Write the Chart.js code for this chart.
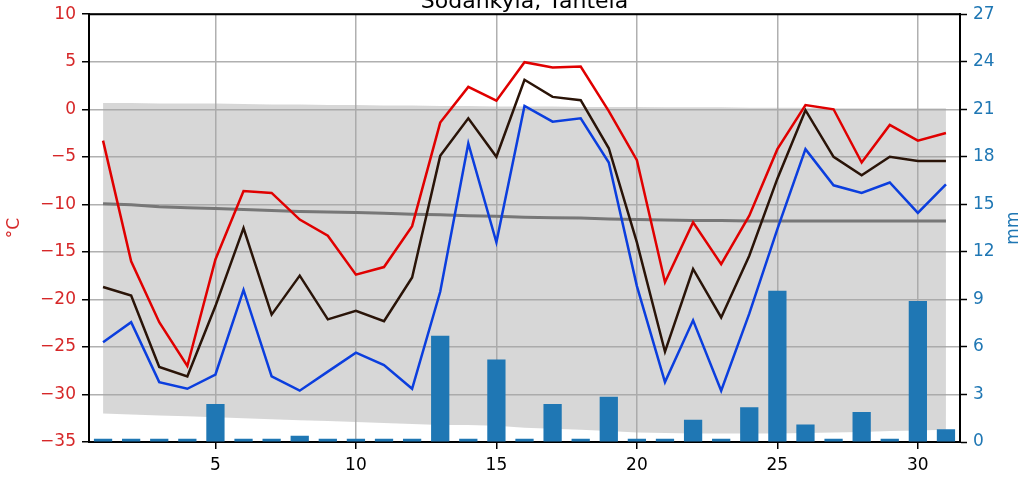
<!DOCTYPE html>
<html>
<head>
<meta charset="utf-8">
<script src="https://cdn.jsdelivr.net/npm/chart.js@4"></script>
<style>
  html, body { margin: 0; padding: 0; background: #fff; overflow: hidden; }
  #wrap { width: 1034px; height: 484px; overflow: hidden; }
  #chart { display: block; margin-top: -2px; }
</style>
</head>
<body>
<div id="wrap"><canvas id="chart" width="1034" height="486"></canvas></div>
<script>
// days of the month
const days = Array.from({ length: 31 }, (_, i) => String(i + 1));

// daily max / mean / min temperature (°C)
const tMax = [-3.3, -16.0, -22.4, -27.0, -15.8, -8.6, -8.8, -11.6, -13.3, -17.4, -16.6, -12.3, -1.4, 2.35, 0.9, 4.95,
  4.4, 4.5, -0.2, -5.35, -18.2, -11.9, -16.3, -11.2, -4.2, 0.45, 0.0, -5.6, -1.65, -3.3, -2.5];
const tMean = [-18.7, -19.6, -27.1, -28.1, -20.7, -12.5, -21.6, -17.5, -22.1, -21.2, -22.3, -17.7, -4.9, -0.95, -5.0, 3.1,
  1.3, 0.95, -4.1, -14.0, -25.5, -16.8, -21.9, -15.4, -7.3, -0.1, -5.0, -6.95, -5.0, -5.45, -5.45];
const tMin = [-24.5, -22.4, -28.7, -29.4, -27.9, -19.0, -28.1, -29.6, -27.6, -25.6, -26.9, -29.4, -19.2, -3.6, -14.0, 0.35,
  -1.3, -0.95, -5.6, -18.6, -28.7, -22.2, -29.6, -21.5, -12.6, -4.2, -8.0, -8.8, -7.7, -10.9, -7.9];

// long-term mean temperature and its range (grey band)
const climMean = [-9.95, -10.05, -10.25, -10.35, -10.45, -10.55, -10.65, -10.75, -10.8, -10.85, -10.95, -11.05, -11.1,
  -11.2, -11.25, -11.35, -11.4, -11.45, -11.55, -11.6, -11.65, -11.7, -11.7, -11.75, -11.75, -11.75, -11.75, -11.75,
  -11.75, -11.75, -11.75];
const climHigh = [0.65, 0.65, 0.6, 0.6, 0.6, 0.55, 0.5, 0.5, 0.45, 0.45, 0.4, 0.4, 0.35, 0.35, 0.3, 0.3, 0.3, 0.25,
  0.25, 0.25, 0.2, 0.2, 0.2, 0.15, 0.15, 0.15, 0.1, 0.1, 0.1, 0.1, 0.1];
const climLow = [-32.0, -32.1, -32.2, -32.3, -32.4, -32.5, -32.6, -32.7, -32.8, -32.9, -33.0, -33.1, -33.2, -33.2,
  -33.3, -33.5, -33.6, -33.7, -33.85, -34.0, -34.05, -34.1, -34.1, -34.1, -34.1, -34.05, -34.0, -33.95, -33.85, -33.8,
  -33.7];

// daily precipitation (mm)
const precip = [0.2, 0.2, 0.2, 0.2, 2.4, 0.2, 0.2, 0.4, 0.2, 0.2, 0.2, 0.2, 6.7, 0.2, 5.2, 0.2,
  2.4, 0.2, 2.85, 0.2, 0.2, 1.4, 0.2, 2.2, 9.55, 1.1, 0.2, 1.9, 0.2, 8.9, 0.8];

const titleText = 'Sodankylä, Tähtelä';
const FONT = 'DejaVu Sans';
const RED = '#d62728';
const BLUE = '#1f77b4';

const minus = v => String(v).replace('-', '\u2212');

// title (cut off at the top) + axis labels + top spine
const extras = {
  id: 'extras',
  afterDraw(chart) {
    const { ctx, chartArea: a } = chart;
    ctx.save();
    ctx.fillStyle = '#000';
    ctx.font = '22px "' + FONT + '"';
    ctx.textAlign = 'center';
    ctx.textBaseline = 'alphabetic';
    ctx.fillText(titleText, (a.left + a.right) / 2, a.top - 6);

    ctx.font = '17px "' + FONT + '"';
    ctx.textBaseline = 'middle';
    const midY = (a.top + a.bottom) / 2;
    ctx.translate(15, midY);
    ctx.rotate(-Math.PI / 2);
    ctx.fillStyle = RED;
    ctx.fillText('°C', 0, 0);
    ctx.setTransform(1, 0, 0, 1, 0, 0);
    ctx.translate(1014, midY);
    ctx.rotate(-Math.PI / 2);
    ctx.fillStyle = BLUE;
    ctx.fillText('mm', 0, 0);
    ctx.setTransform(1, 0, 0, 1, 0, 0);

    ctx.strokeStyle = '#000';
    ctx.lineWidth = 2;
    ctx.beginPath();
    ctx.moveTo(a.left - 1, a.top);
    ctx.lineTo(a.right + 1, a.top);
    ctx.stroke();
    ctx.restore();
  }
};

const fifth = ctx => (ctx.index + 1) % 5 === 0;

new Chart(document.getElementById('chart'), {
  data: {
    labels: days,
    datasets: [
      { type: 'line', data: climLow, yAxisID: 'y', borderWidth: 0, borderColor: 'transparent', pointRadius: 0, fill: false, order: 10 },
      { type: 'line', data: climHigh, yAxisID: 'y', borderWidth: 0, borderColor: 'transparent', pointRadius: 0,
        fill: '-1', backgroundColor: 'rgba(163,163,163,0.44)', order: 9 },
      { type: 'bar', data: precip, yAxisID: 'y1', backgroundColor: BLUE, barPercentage: 0.65, categoryPercentage: 1, order: 5 },
      { type: 'line', data: climMean, yAxisID: 'y', borderColor: '#777777', borderWidth: 3, pointRadius: 0, tension: 0, order: 4 },
      { type: 'line', data: tMin, yAxisID: 'y', borderColor: '#0b3ede', borderWidth: 2.5, pointRadius: 0, tension: 0, order: 3 },
      { type: 'line', data: tMean, yAxisID: 'y', borderColor: '#2a1408', borderWidth: 2.5, pointRadius: 0, tension: 0, order: 2 },
      { type: 'line', data: tMax, yAxisID: 'y', borderColor: '#e00000', borderWidth: 2.5, pointRadius: 0, tension: 0, order: 1 }
    ]
  },
  options: {
    responsive: false,
    animation: false,
    events: [],
    layout: { padding: { top: 11, left: 0, right: 0, bottom: 0 } },
    plugins: { legend: { display: false }, tooltip: { enabled: false }, title: { display: false } },
    scales: {
      x: {
        type: 'category',
        offset: true,
        grid: {
          offset: false,
          color: ctx => fifth(ctx) ? '#b0b0b0' : 'transparent',
          tickColor: ctx => fifth(ctx) ? '#000' : 'transparent',
          lineWidth: 1.5,
          tickLength: 7,
          tickWidth: 1.5
        },
        border: { color: '#000', width: 2 },
        ticks: {
          autoSkip: false,
          maxRotation: 0,
          padding: 6,
          color: '#000',
          font: { family: FONT, size: 17 },
          callback: (v, i) => (i + 1) % 5 === 0 ? days[i] : ''
        },
        afterFit: s => { s.height = 42; }
      },
      y: {
        position: 'left',
        min: -35, max: 10,
        grid: { color: '#b0b0b0', lineWidth: 1.5, tickColor: '#000', tickLength: 7, tickWidth: 1.5 },
        border: { color: '#000', width: 2 },
        ticks: { stepSize: 5, padding: 6, color: RED, font: { family: FONT, size: 17 }, callback: v => minus(v) },
        afterFit: s => { s.width = 89; }
      },
      y1: {
        position: 'right',
        min: 0, max: 27,
        grid: { drawOnChartArea: false, tickColor: '#000', tickLength: 7, tickWidth: 1.5 },
        border: { color: '#000', width: 2 },
        ticks: { stepSize: 3, padding: 6, color: BLUE, font: { family: FONT, size: 17 } },
        afterFit: s => { s.width = 74; }
      }
    }
  },
  plugins: [extras]
});
</script>
</body>
</html>
